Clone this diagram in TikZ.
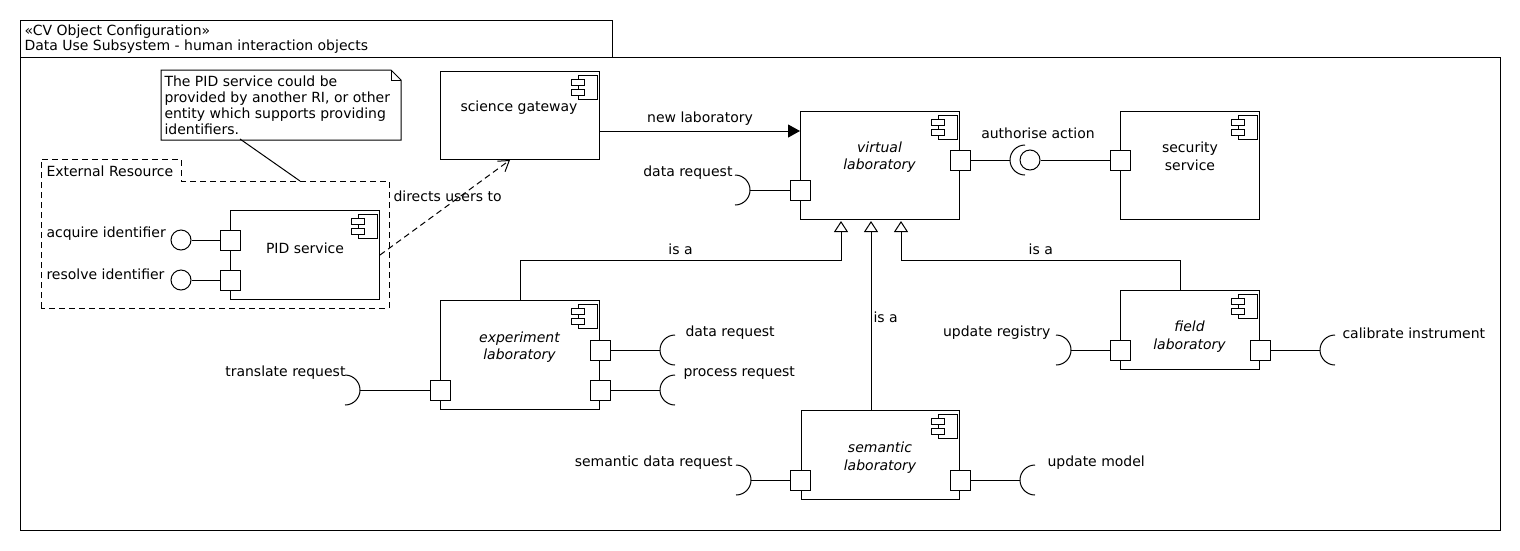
\documentclass[tikz,border=0pt]{standalone}
\usepackage{fontspec}
\setmainfont{DejaVu Sans}
\usetikzlibrary{arrows.meta}

\newcommand{\compicon}[1]{
    \begin{scope}[shift={(#1.north east)}]
        \draw[fill=white] (-22,4) rectangle (-3,28);
        \draw[fill=white] (-29,8) rectangle (-16,14);
        \draw[fill=white] (-29,18) rectangle (-16,24);
    \end{scope}
}
\newcommand{\socketR}[1]{\draw (#1) ++(-15,-15) arc[start angle=-90, end angle=90, radius=15];}
\newcommand{\socketL}[1]{\draw (#1) ++(15,-15) arc[start angle=-90, end angle=-270, radius=15];}

\begin{document}
\fontsize{14}{17.5}\selectfont
\begin{tikzpicture}[x=1pt, y=-1pt, line width=1pt,
        comp/.style={draw, fill=white, anchor=north west, inner sep=0},
        port/.style={draw, fill=white, minimum size=20, inner sep=0},
        ball/.style={circle, draw, fill=white, minimum size=20, inner sep=0},
        lbl/.style={inner sep=0},
        dashline/.style={dash pattern=on 6pt off 4pt},
        gen/.style={-{Triangle[open, length=11pt, width=14pt]}}]
    \useasboundingbox (0,0) rectangle (1520,550);

    \draw (20,20) rectangle (612,57);
    \draw (20,57) rectangle (1500,530);
    \node[lbl, anchor=north west, align=left, font=\fontsize{14}{15.5}\selectfont] (frame-title) at (24,24) {«CV Object Configuration»\\Data Use Subsystem - human interaction objects};

    \node[anchor=north west, minimum width=239, minimum height=69, inner sep=0] (note) at (161,70) {};
    \draw (note.north west) -- ([xshift=-10]note.north east) -- ([yshift=-10]note.north east) -- (note.south east) -- (note.south west) -- cycle;
    \draw ([xshift=-10]note.north east) |- ([yshift=-10]note.north east);
    \node[lbl, anchor=north west, align=left, font=\fontsize{14}{16}\selectfont] (note-text) at (164,75) {The PID service could be\\provided by another RI, or other\\entity which supports providing\\identifiers.};

    \draw[dashline] (41,308) -- (41,159) -- (181,159) -- (181,181) -- (389,181) -- (389,308) -- cycle;
    \node[lbl, anchor=west] (ext-title) at (46,171) {External Resource};
    \coordinate (note-foot) at (240,139);
    \coordinate (ext-top) at (300,181);
    \draw (note-foot) -- (ext-top);

    \node[comp, minimum width=149, minimum height=89] (pid) at (230,210) {};
    \compicon{pid}
    \node (pid-name) at (305,248) {PID service};
    \node[port] (pid-p1) at (230,240) {};
    \node[port] (pid-p2) at (230,280) {};
    \node[ball] (ball-acq) at (181,240) {};
    \node[ball] (ball-res) at (181,280) {};
    \draw (ball-acq) -- (pid-p1);
    \draw (ball-res) -- (pid-p2);
    \node[lbl, anchor=west] (lbl-acq) at (46,234) {acquire identifier};
    \node[lbl, anchor=west] (lbl-res) at (46,274) {resolve identifier};

    \node[comp, minimum width=159, minimum height=88] (gw) at (440,71) {};
    \compicon{gw}
    \node (gw-name) at (519,108) {science gateway};
    \coordinate (gw-foot) at (510,160);
    \draw[dashline, -{Straight Barb[length=10pt, width=13pt]}] (pid.east) -- (gw-foot);
    \node[lbl, anchor=west] (lbl-directs) at (393,196) {directs users to};

    \node[comp, minimum width=159, minimum height=108] (virtual) at (800,111) {};
    \compicon{virtual}
    \node[align=center, font=\itshape] (virtual-name) at (879.5,157) {virtual\\laboratory};
    \coordinate (newlab-end) at (800,131);
    \draw[-{Triangle[length=12pt, width=13pt]}] (gw.east |- newlab-end) -- (newlab-end) node[midway, above] (lbl-newlab) {new laboratory};

    \node[comp, minimum width=139, minimum height=108] (sec) at (1120,111) {};
    \compicon{sec}
    \node[align=center] (sec-name) at (1190,156.5) {security\\service};

    \node[comp, minimum width=159, minimum height=109] (expt) at (440,300) {};
    \compicon{expt}
    \node[align=center, font=\itshape] (expt-name) at (519.5,347) {experiment\\laboratory};

    \node[comp, minimum width=139, minimum height=79] (field) at (1120,290) {};
    \compicon{field}
    \node[align=center, font=\itshape] (field-name) at (1189.5,336.5) {field\\laboratory};

    \node[comp, minimum width=158, minimum height=89] (sem) at (801,410) {};
    \compicon{sem}
    \node[align=center, font=\itshape] (sem-name) at (880,457.5) {semantic\\laboratory};

    \coordinate (gen-l) at (841,221);
    \coordinate (gen-c) at (871,221);
    \coordinate (gen-r) at (901,221);
    \draw[gen] (expt.north) -- ++(0,-40) -| node[pos=0.25, above] (lbl-isa-l) {is a} (gen-l);
    \draw[gen] ([xshift=-9.5]field.north) -- ++(0,-30) -| node[pos=0.25, above] (lbl-isa-r) {is a} (gen-r);
    \draw[gen] (gen-c |- sem.north) -- (gen-c) node[pos=0.49, right, inner sep=2] (lbl-isa-c) {is a};

    \node[port] (virtual-p1) at (800,190) {};
    \node[port] (virtual-p2) at (960,160) {};
    \node[port] (sec-p1) at (1120,160) {};
    \node[port] (expt-p1) at (600,350) {};
    \node[port] (expt-p2) at (600,390) {};
    \node[port] (expt-p3) at (440,390) {};
    \node[port] (field-p1) at (1120,350) {};
    \node[port] (field-p2) at (1260,350) {};
    \node[port] (sem-p1) at (800,480) {};
    \node[port] (sem-p2) at (960,480) {};

    \coordinate (dr-v-tip) at (750,190);
    \socketR{dr-v-tip}
    \draw (virtual-p1) -- (dr-v-tip);
    \node[lbl, anchor=east] (lbl-dr-v) at (733,173) {data request};

    \coordinate (auth-tip) at (1010,160);
    \socketL{auth-tip}
    \node[ball] (ball-auth) at (1030,160) {};
    \draw (virtual-p2) -- (auth-tip);
    \draw (ball-auth) -- (sec-p1);
    \node (lbl-auth) at (1038,133) {authorise action};

    \coordinate (dr-e-tip) at (660,350);
    \coordinate (pr-e-tip) at (660,390);
    \coordinate (tr-e-tip) at (360,390);
    \socketL{dr-e-tip}
    \socketL{pr-e-tip}
    \socketR{tr-e-tip}
    \draw (expt-p1) -- (dr-e-tip);
    \draw (expt-p2) -- (pr-e-tip);
    \draw (expt-p3) -- (tr-e-tip);
    \node[lbl, anchor=west] (lbl-dr-e) at (685,333) {data request};
    \node[lbl, anchor=west] (lbl-pr-e) at (683,373) {process request};
    \node[lbl, anchor=east] (lbl-tr-e) at (346,373) {translate request};

    \coordinate (ur-tip) at (1071,350);
    \coordinate (ci-tip) at (1320,350);
    \socketR{ur-tip}
    \socketL{ci-tip}
    \draw (field-p1) -- (ur-tip);
    \draw (field-p2) -- (ci-tip);
    \node[lbl, anchor=east] (lbl-ur) at (1051,333) {update registry};
    \node[lbl, anchor=west] (lbl-ci) at (1342,333) {calibrate instrument};

    \coordinate (sdr-tip) at (751,480);
    \coordinate (um-tip) at (1020,480);
    \socketR{sdr-tip}
    \socketL{um-tip}
    \draw (sem-p1) -- (sdr-tip);
    \draw (sem-p2) -- (um-tip);
    \node[lbl, anchor=east] (lbl-sdr) at (733,463) {semantic data request};
    \node[lbl, anchor=west] (lbl-um) at (1047,463) {update model};
\end{tikzpicture}
\end{document}
